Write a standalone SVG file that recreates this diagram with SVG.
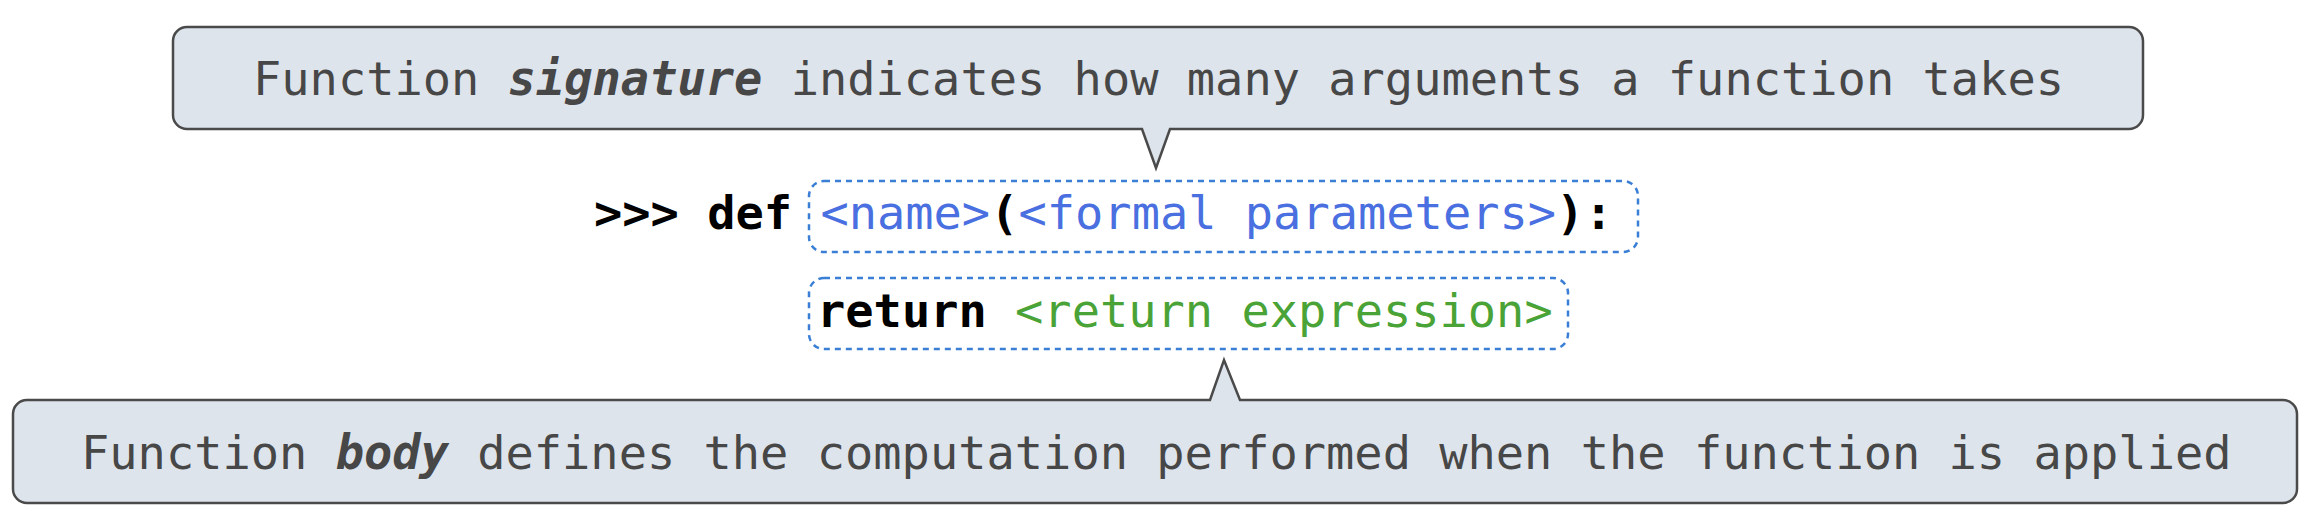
<svg xmlns="http://www.w3.org/2000/svg" width="2322" height="530" viewBox="0 0 2322 530">
<style>
.callout{fill:#dee4ec;stroke:#4a4a4a;stroke-width:2.5;stroke-linejoin:miter}
.ct{font-family:"DejaVu Sans Mono",monospace;font-size:47px;fill:#474747}
.em{font-weight:bold;font-style:italic}
.code{font-family:"DejaVu Sans Mono",monospace;font-size:47px}
.kw{font-weight:bold;fill:#000}
.blue{fill:#4a6fe0}
.green{fill:#4aa336}
.dash{fill:none;stroke:#3a7fd5;stroke-width:2.5;stroke-dasharray:6 5}
</style>
<rect width="2322" height="530" fill="#fff"/>
<g id="connectors"/>
<g id="signature-callout">
<path class="callout" d="M187 27 H2129 A14 14 0 0 1 2143 41 V115 A14 14 0 0 1 2129 129 H1170 L1156 168 L1142 129 H187 A14 14 0 0 1 173 115 V41 A14 14 0 0 1 187 27 Z"/>
<text class="ct" x="253" y="95">Function <tspan class="em">signature</tspan> indicates how many arguments a function takes</text>
</g>
<g id="def-line">
<rect class="dash" x="809" y="181" width="829" height="71" rx="15"/>
<text class="code" x="594" y="229"><tspan class="kw">&gt;&gt;&gt; def </tspan><tspan class="blue">&lt;name&gt;</tspan><tspan class="kw">(</tspan><tspan class="blue">&lt;formal parameters&gt;</tspan><tspan class="kw">):</tspan></text>
</g>
<g id="return-line">
<rect class="dash" x="809" y="278" width="759" height="71" rx="15"/>
<text class="code" x="817" y="327"><tspan class="kw">return </tspan><tspan class="green">&lt;return expression&gt;</tspan></text>
</g>
<g id="body-callout">
<path class="callout" d="M27 400 H1210 L1224 360 L1240 400 H2283 A14 14 0 0 1 2297 414 V489 A14 14 0 0 1 2283 503 H27 A14 14 0 0 1 13 489 V414 A14 14 0 0 1 27 400 Z"/>
<text class="ct" x="81" y="469">Function <tspan class="em">body</tspan> defines the computation performed when the function is applied</text>
</g>
</svg>
